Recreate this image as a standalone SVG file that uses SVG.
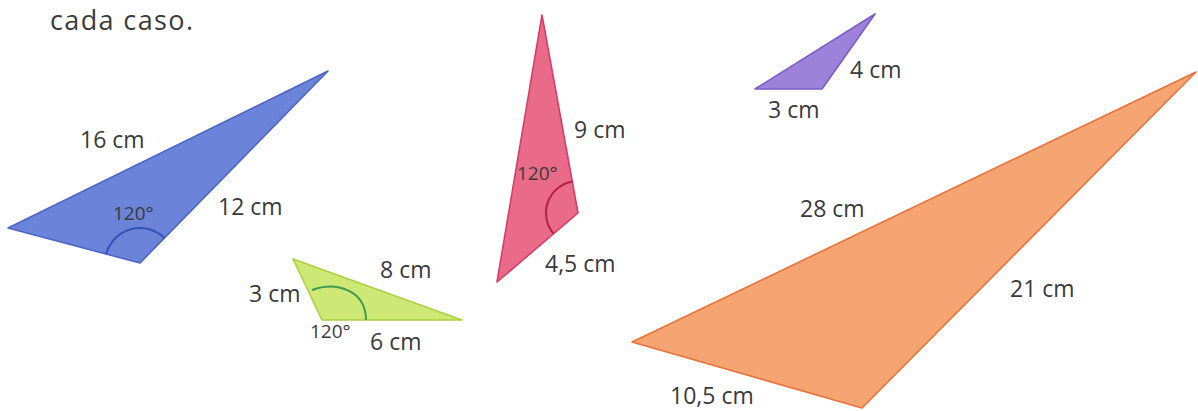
<svg xmlns="http://www.w3.org/2000/svg" width="1198" height="411" viewBox="0 0 1198 411">
<style>
text{font-family:"Open Sans","Noto Sans","Liberation Sans",sans-serif;fill:#3a3a3a}
.lbl{font-size:23px}
.ang{font-size:19px}
.tri{stroke-width:1.6;stroke-linejoin:round}
.arc{fill:none;stroke-width:2}
</style>
<rect width="1198" height="411" fill="#ffffff"/>
<text x="50" y="30" style="font-size:27px" textLength="143">cada caso.</text>
<g id="blue">
<polygon class="tri" points="328,71 8,228 140,263" fill="#6b83d8" stroke="#4c66c4"/>
<path class="arc" d="M106.2,254 A35,35 0 0 1 164.5,238" stroke="#3550b8"/>
<text class="lbl" x="80" y="148">16 cm</text>
<text class="lbl" x="218" y="215">12 cm</text>
<text class="ang" x="113" y="220">120°</text>
</g>
<g id="green">
<polygon class="tri" points="293,259 322,320 462,320" fill="#cde874" stroke="#abd040"/>
<path class="arc" d="M312,290 C336,281 366,290 366,320" stroke="#3f9a50"/>
<text class="lbl" x="380" y="278">8 cm</text>
<text class="lbl" x="249" y="302">3 cm</text>
<text class="ang" x="310" y="338">120°</text>
<text class="lbl" x="370" y="350">6 cm</text>
</g>
<g id="pink">
<polygon class="tri" points="542,15 578,213 497,282" fill="#ea6b89" stroke="#d83d66"/>
<path class="arc" d="M572.3,181.5 A32,32 0 0 0 553.6,233.7" stroke="#b52048"/>
<text class="lbl" x="574" y="138">9 cm</text>
<text class="ang" x="517" y="180">120°</text>
<text class="lbl" x="545" y="272">4,5 cm</text>
</g>
<g id="purple">
<polygon class="tri" points="875,14 755,89 822,89" fill="#9d82db" stroke="#7c5cc6"/>
<text class="lbl" x="850" y="78">4 cm</text>
<text class="lbl" x="768" y="118">3 cm</text>
</g>
<g id="orange">
<polygon class="tri" points="1196,72 632,342 862,408" fill="#f5a472" stroke="#e8733c"/>
<text class="lbl" x="800" y="217">28 cm</text>
<text class="lbl" x="1010" y="297">21 cm</text>
<text class="lbl" x="670" y="404">10,5 cm</text>
</g>
</svg>
